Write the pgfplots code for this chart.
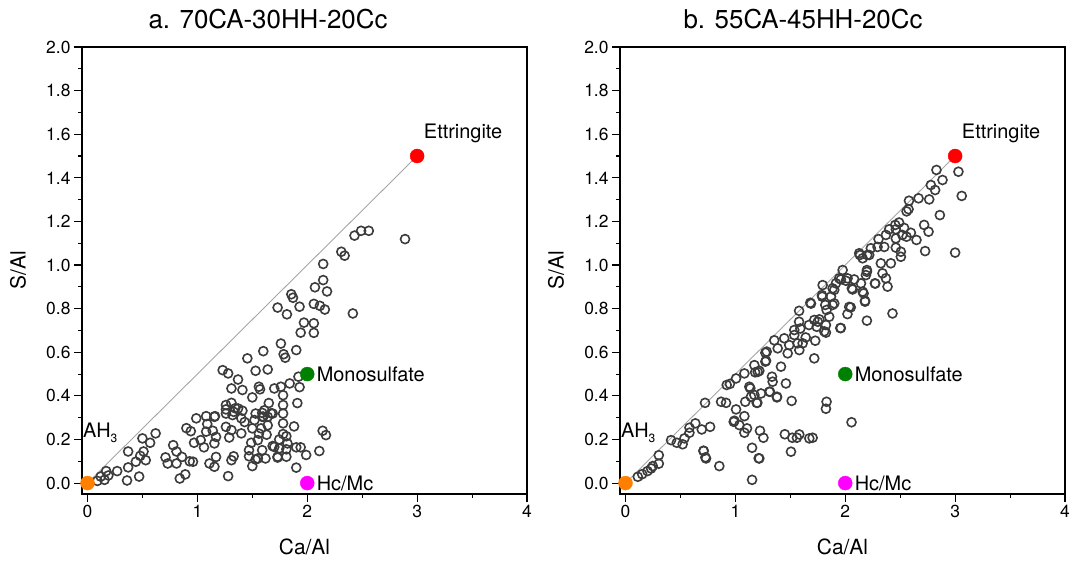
\documentclass[border=0pt]{standalone}
\usepackage{fontspec}
\setmainfont{TeX Gyre Heros}
\usepackage{pgfplots}
\usepackage{pgfplotstable}
\pgfplotsset{compat=1.18}
\definecolor{ptedge}{HTML}{3C3C3C}
\definecolor{ahorange}{HTML}{FF8000}
\definecolor{monogreen}{HTML}{008000}
\definecolor{hcmag}{HTML}{FF00FF}
\definecolor{ettred}{HTML}{FF0000}

\pgfplotstableread{
x y
0.09 0.01
0.12 0.03
0.155 0.015
0.17 0.055
0.19 0.035
0.27 0.055
0.36 0.012
0.37 0.072
0.37 0.145
0.44 0.098
0.47 0.03
0.48 0.125
0.51 0.145
0.50 0.205
0.53 0.105
0.57 0.185
0.62 0.228
0.71 0.118
0.73 0.09
0.78 0.174
0.81 0.145
0.81 0.09
0.84 0.021
0.86 0.12
0.89 0.04
0.90 0.252
0.93 0.10
0.94 0.238
0.96 0.098
0.97 0.185
0.99 0.297
1.03 0.197
1.06 0.164
1.08 0.307
1.08 0.236
1.09 0.271
1.11 0.09
1.14 0.24
1.155 0.075
1.155 0.304
1.155 0.182
1.17 0.12
1.17 0.212
1.23 0.518
1.26 0.358
1.26 0.319
1.26 0.258
1.28 0.503
1.28 0.032
1.29 0.209
1.31 0.434
1.31 0.368
1.31 0.243
1.31 0.105
1.32 0.312
1.33 0.123
1.37 0.475
1.37 0.342
1.40 0.297
1.40 0.228
1.41 0.427
1.41 0.332
1.455 0.572
1.47 0.123
1.49 0.185
1.50 0.393
1.50 0.251
1.50 0.078
1.52 0.289
1.53 0.515
1.53 0.319
1.53 0.108
1.55 0.197
1.56 0.442
1.57 0.43
1.58 0.251
1.59 0.304
1.59 0.151
1.60 0.605
1.61 0.334
1.62 0.113
1.63 0.222
1.64 0.521
1.64 0.304
1.65 0.367
1.685 0.319
1.685 0.170
1.70 0.434
1.73 0.805
1.73 0.121
1.745 0.20
1.745 0.159
1.76 0.442
1.76 0.64
1.78 0.403
1.78 0.358
1.78 0.319
1.78 0.274
1.785 0.591
1.80 0.575
1.81 0.215
1.81 0.155
1.81 0.121
1.815 0.774
1.82 0.182
1.84 0.457
1.855 0.866
1.87 0.85
1.90 0.164
1.90 0.071
1.90 0.61
1.91 0.367
1.92 0.488
1.93 0.44
1.93 0.809
1.94 0.69
1.94 0.164
1.97 0.736
1.99 0.129
2.06 0.822
2.06 0.733
2.06 0.689
2.07 0.898
2.115 0.813
2.11 0.147
2.14 0.24
2.145 1.005
2.145 0.931
2.16 0.796
2.17 0.22
2.18 0.879
2.31 1.061
2.34 1.043
2.415 0.778
2.43 1.135
2.49 1.157
2.56 1.157
2.89 1.119
1.43 0.28
1.64 0.265
1.88 0.26
1.55 0.113
1.73 0.117
1.47 0.151
1.345 0.343
1.33 0.327
1.59 0.322
1.60 0.305
1.67 0.32
1.26 0.338
1.16 0.307
1.70 0.166
1.78 0.225
1.56 0.227
}\dataA

\pgfplotstableread{
x y
0.112 0.029
0.152 0.041
0.20 0.055
0.233 0.067
0.248 0.078
0.303 0.089
0.303 0.128
0.415 0.197
0.467 0.185
0.52 0.178
0.536 0.205
0.582 0.231
0.582 0.254
0.636 0.274
0.694 0.246
0.77 0.258
0.724 0.368
0.709 0.148
0.727 0.118
0.854 0.078
0.87 0.373
0.915 0.368
0.921 0.45
0.95 0.455
1.006 0.48
1.082 0.503
1.173 0.541
1.18 0.508
1.218 0.515
1.273 0.598
1.273 0.557
1.006 0.338
1.082 0.307
0.991 0.286
1.036 0.266
1.106 0.251
1.082 0.231
1.136 0.435
1.142 0.396
1.09 0.373
1.194 0.368
1.173 0.404
1.233 0.411
1.224 0.24
1.255 0.208
1.152 0.162
1.218 0.113
1.152 0.015
1.506 0.144
1.582 0.223
1.673 0.205
1.703 0.208
2.057 0.279
1.83 0.373
1.824 0.341
1.512 0.377
1.46 0.457
1.379 0.396
1.315 0.419
1.333 0.488
1.339 0.465
1.415 0.534
1.718 0.572
1.279 0.561
1.285 0.603
1.354 0.655
1.385 0.618
1.476 0.595
1.49 0.633
1.445 0.664
1.536 0.679
1.567 0.641
1.582 0.61
1.612 0.641
1.64 0.668
1.536 0.702
1.591 0.709
1.58 0.74
1.58 0.79
1.67 0.725
1.727 0.653
1.74 0.717
1.718 0.748
1.764 0.751
1.809 0.696
1.824 0.725
1.854 0.763
1.83 0.794
1.818 0.817
1.885 0.817
1.87 0.855
1.9 0.886
1.682 0.827
1.788 0.862
1.794 0.908
1.915 0.916
1.96 0.711
2.02 0.775
2.05 0.806
1.96 0.934
2.006 0.928
1.976 0.977
2.082 0.934
2.067 0.888
2.143 0.916
2.158 0.878
2.18 0.836
2.197 0.745
2.197 0.969
2.133 1.046
2.2 1.046
2.27 0.916
1.127 0.442
1.203 0.51
2.83 1.436
3.03 1.428
2.885 1.39
3.06 1.317
2.861 1.229
2.779 1.367
2.818 1.344
2.764 1.301
2.667 1.306
2.58 1.295
2.576 1.256
2.558 1.246
2.718 1.184
2.758 1.153
2.648 1.115
2.727 1.064
3.0 1.057
2.49 1.195
2.455 1.184
2.40 1.164
2.46 1.164
2.536 1.17
2.52 1.138
2.597 1.148
2.558 1.13
2.46 1.122
2.37 1.138
2.303 1.119
2.294 1.083
2.355 1.083
2.46 1.08
2.506 1.061
2.506 1.038
2.233 1.077
2.218 1.046
2.127 1.054
2.158 1.031
2.324 1.008
2.415 1.008
2.339 0.962
2.37 0.939
2.385 0.901
2.273 0.915
2.197 0.977
2.188 0.954
1.945 0.939
2.021 0.939
2.06 0.893
2.167 0.870
2.18 0.832
1.885 0.893
1.9 0.824
2.036 0.808
2.43 0.778
1.955 0.711
1.45 0.224
1.518 0.208
1.56 0.208
1.212 0.114
0.733 0.113
0.712 0.148
1.688 0.823
1.79 0.855
1.75 0.74
1.824 0.69
0.985 0.281
1.2 0.368
1.309 0.419
1.378 0.393
}\dataB

\tikzset{lab/.style={font=\fontsize{20}{20}\selectfont}}
\pgfplotsset{
  panel/.style={
    scale only axis, width=445bp, height=447bp,
    xmin=-0.05, xmax=4, ymin=-0.05, ymax=2,
    xtick={0,1,2,3,4},
    ytick={0,0.2,0.4,0.6,0.8,1.0,1.2,1.4,1.6,1.8,2.0},
    minor x tick num=1, minor y tick num=1,
    tick align=outside, xtick pos=bottom, ytick pos=left,
    major tick length=8bp, minor tick length=4bp,
    axis line style={line width=1.3bp},
    every tick/.style={black, line width=1.1bp},
    tick label style={font=\fontsize{17.5}{17.5}\selectfont},
    /pgf/number format/assume math mode=true,
    yticklabel style={/pgf/number format/.cd, fixed, fixed zerofill, precision=1, /tikz/.cd},
    xlabel={Ca/Al}, ylabel={S/Al},
    label style={font=\fontsize{21}{21}\selectfont},
    xlabel style={at={(axis description cs:0.5,-0.118)}, anchor=center},
    ylabel style={at={(axis description cs:-0.144,0.5)}, anchor=center},
    clip=false,
  },
  dots/.style={only marks, mark=o, mark size=4.5bp, mark options={draw=ptedge, line width=1.6bp}},
  ref/.style={only marks, mark=*, mark size=7bp, mark options={draw=#1, fill=#1}},
}

\begin{document}
\begin{tikzpicture}
\useasboundingbox (0,0) rectangle (1072bp,562bp);
\node[font=\fontsize{26}{26}\selectfont] at (268bp,543bp) {a. 70CA-30HH-20Cc};
\node[font=\fontsize{26}{26}\selectfont] at (803bp,543bp) {b. 55CA-45HH-20Cc};

\begin{axis}[panel, at={(82bp,68bp)}, anchor=south west]
  \addplot[gray!70, line width=0.9bp] coordinates {(0,0) (3,1.5)};
  \addplot[dots] table[x=x,y=y] {\dataA};
  \addplot[ref=ahorange] coordinates {(0,0)};
  \addplot[ref=hcmag] coordinates {(2,0)};
  \addplot[ref=monogreen] coordinates {(2,0.5)};
  \addplot[ref=ettred] coordinates {(3,1.5)};
  \node[lab, xshift=46bp, yshift=23bp] at (axis cs:3,1.5) {Ettringite};
  \node[lab, anchor=west, xshift=6bp] at (axis cs:2,0.5) {Monosulfate};
  \node[lab, anchor=west, xshift=6bp] at (axis cs:2,0) {Hc/Mc};
  \node[lab, anchor=base west, xshift=-8bp, yshift=46bp] at (axis cs:0,0) {AH\raisebox{-0.55ex}{\fontsize{12}{12}\selectfont 3}};
\end{axis}

\begin{axis}[panel, at={(620bp,68bp)}, anchor=south west]
  \addplot[gray!70, line width=0.9bp] coordinates {(0,0) (3,1.5)};
  \addplot[dots] table[x=x,y=y] {\dataB};
  \addplot[ref=ahorange] coordinates {(0,0)};
  \addplot[ref=hcmag] coordinates {(2,0)};
  \addplot[ref=monogreen] coordinates {(2,0.5)};
  \addplot[ref=ettred] coordinates {(3,1.5)};
  \node[lab, xshift=46bp, yshift=23bp] at (axis cs:3,1.5) {Ettringite};
  \node[lab, anchor=west, xshift=6bp] at (axis cs:2,0.5) {Monosulfate};
  \node[lab, anchor=west, xshift=6bp] at (axis cs:2,0) {Hc/Mc};
  \node[lab, anchor=base west, xshift=-8bp, yshift=46bp] at (axis cs:0,0) {AH\raisebox{-0.55ex}{\fontsize{12}{12}\selectfont 3}};
\end{axis}
\end{tikzpicture}
\end{document}
